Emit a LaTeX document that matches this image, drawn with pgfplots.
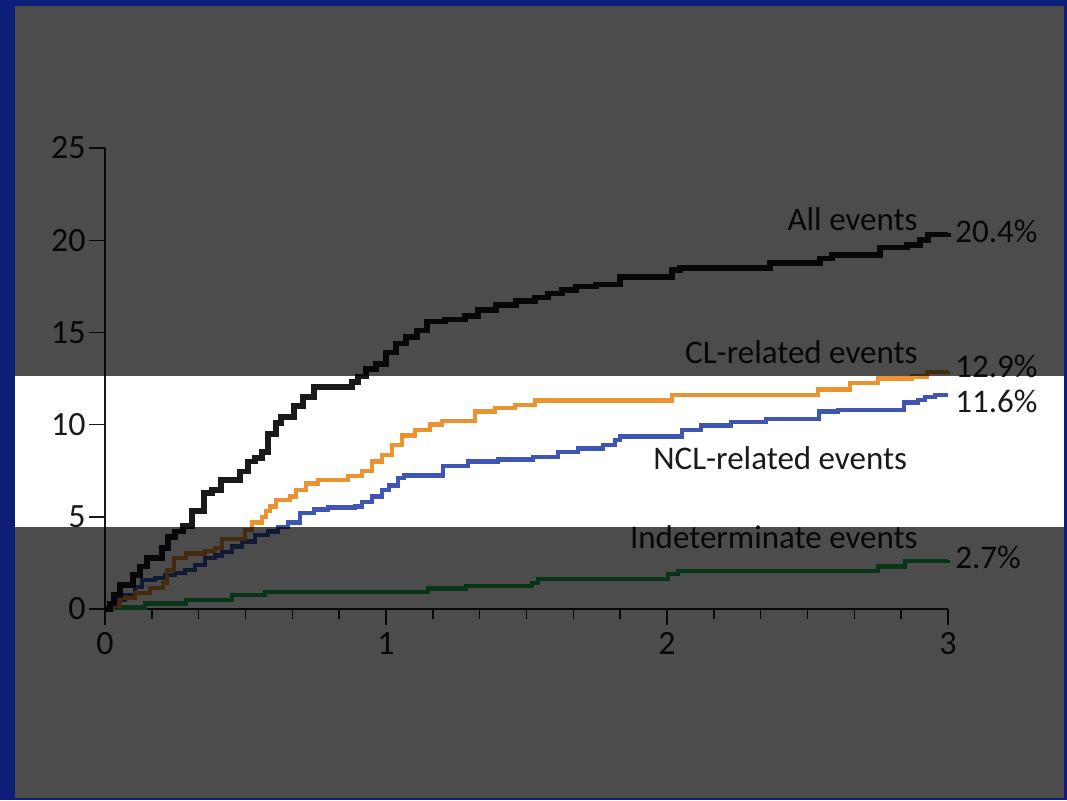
\documentclass[border=0pt]{standalone}
\usepackage{fontspec}
\setmainfont{Carlito}
\usepackage{pgfplots}
\pgfplotsset{compat=1.18}
\definecolor{navybg}{RGB}{12,30,120}
\definecolor{kblack}{RGB}{26,26,26}
\definecolor{korange}{RGB}{234,147,48}
\definecolor{kblue}{RGB}{63,85,179}
\definecolor{kgreen}{RGB}{30,175,80}
\newcommand\lbl{\fontsize{16.5}{19}\selectfont}
\begin{document}
\begin{tikzpicture}
\useasboundingbox (0,0) rectangle (533.5pt,400pt);
\fill[navybg] (0,0) rectangle (533.5pt,400pt);
\fill[white] (7.5pt,1pt) rectangle (532pt,397pt);
\begin{axis}[
  at={(52.5pt,95.5pt)}, anchor=south west,
  scale only axis, width=421.5pt, height=230.5pt,
  xmin=0, xmax=3, ymin=0, ymax=25,
  axis lines=left, axis line style={line width=0.7pt, -, kblack},
  xtick={0,1,2,3}, ytick={0,5,10,15,20,25},
  minor x tick num=5,
  tick align=outside, major tick length=8pt, minor tick length=5pt,
  tick style={line width=0.7pt, kblack},
  clip=false,
  /pgf/number format/assume math mode=true,
  tick label style={font=\fontsize{17}{20}\selectfont, text=kblack},
  xticklabel style={inner sep=3.5pt},
  yticklabel style={inner sep=1.5pt},
  every axis plot/.append style={no marks, const plot mark left, line join=miter},
]
% Indeterminate
\addplot[kgreen, line width=2.2pt] coordinates {
(0,0) (0.0249,0.08) (0.1423,0.3) (0.2883,0.5) (0.452,0.76) (0.5694,0.92)
(1.1495,1.12) (1.2847,1.25) (1.5196,1.4) (1.5409,1.62) (2.0036,1.9) (2.0391,2.05)
(2.7509,2.3) (2.847,2.6) (3.0,2.65)};
% NCL
\addplot[kblue, line width=2.2pt] coordinates {
(0,0) (0.0214,0.2) (0.0391,0.5) (0.0712,0.76) (0.1068,1.2) (0.1317,1.57)
(0.1779,1.67) (0.2135,1.84) (0.2491,1.95) (0.2847,2.1) (0.3203,2.4) (0.3559,2.75)
(0.3915,2.9) (0.4164,3.1) (0.452,3.4) (0.4875,3.65) (0.5338,4.0) (0.5801,4.2)
(0.6157,4.45) (0.6512,4.7) (0.694,5.2) (0.7438,5.4) (0.7936,5.5) (0.8897,5.55)
(0.9146,5.8) (0.9502,6.1) (0.9858,6.45) (1.0107,6.7) (1.0427,7.1) (1.0641,7.25)
(1.2028,7.75) (1.2918,8.0) (1.3986,8.1) (1.5231,8.25) (1.6121,8.5) (1.6833,8.7)
(1.7722,8.9) (1.8149,9.15) (1.8327,9.35) (2.0534,9.7) (2.121,9.95) (2.2278,10.15)
(2.3523,10.3) (2.5409,10.7) (2.6085,10.8) (2.8434,11.2) (2.8932,11.35) (2.9181,11.5)
(2.9537,11.6) (3.0,11.6)};
% CL
\addplot[korange, line width=2.2pt] coordinates {
(0,0) (0.0249,0.2) (0.0534,0.6) (0.1068,0.86) (0.1601,1.14) (0.2064,1.4)
(0.2206,2.1) (0.2456,2.75) (0.2883,3.0) (0.3559,3.15) (0.3915,3.3) (0.4164,3.8)
(0.4982,4.3) (0.5231,4.7) (0.5587,5.0) (0.573,5.3) (0.5872,5.55) (0.6085,5.9)
(0.6584,6.1) (0.6797,6.45) (0.7153,6.8) (0.758,7.0) (0.8648,7.2) (0.9146,7.5)
(0.9502,8.0) (0.9858,8.35) (1.0214,8.9) (1.0569,9.4) (1.1032,9.7) (1.1566,10.0)
(1.1993,10.2) (1.3167,10.7) (1.3879,10.9) (1.4591,11.05) (1.5302,11.3) (2.0178,11.6)
(2.5374,11.9) (2.6512,12.25) (2.7509,12.5) (2.8719,12.6) (2.9253,12.85) (3.0,12.9)};
% All events
\addplot[kblack, line width=2.8pt] coordinates {
(0,0) (0.0178,0.3) (0.032,0.76) (0.053,1.3) (0.0996,1.84) (0.1246,2.3)
(0.1495,2.75) (0.2028,3.3) (0.2242,3.9) (0.2491,4.2) (0.2776,4.5) (0.3096,5.3)
(0.3523,6.3) (0.3808,6.45) (0.4128,7.0) (0.4804,7.45) (0.5089,8.0) (0.5338,8.2)
(0.5587,8.5) (0.5801,9.5) (0.6085,10.1) (0.6263,10.4) (0.6726,11.0) (0.7046,11.5)
(0.7438,12.05) (0.879,12.3) (0.9004,12.6) (0.9288,13.0) (0.9644,13.3) (1.0,13.9)
(1.0356,14.4) (1.0712,14.75) (1.1103,15.1) (1.1459,15.6) (1.21,15.7) (1.2811,15.9)
(1.3274,16.2) (1.3915,16.5) (1.4626,16.7) (1.5302,16.9) (1.5765,17.1) (1.6263,17.3)
(1.6762,17.5) (1.7473,17.6) (1.8327,18.0) (2.0178,18.4) (2.0463,18.5) (2.3665,18.75)
(2.5445,19.0) (2.5872,19.2) (2.758,19.6) (2.854,19.75) (2.9004,20.0) (2.9288,20.3)
(3.0,20.4)};
\node[anchor=base east, inner sep=0pt, font=\lbl, text=kblack] at (axis cs:2.893,20.55) {All events};
\node[anchor=base east, inner sep=0pt, font=\lbl, text=kblack] at (axis cs:2.893,13.34) {CL-related events};
\node[anchor=base west, inner sep=0pt, font=\lbl, text=kblack] at (axis cs:1.950,7.54) {NCL-related events};
\node[anchor=base east, inner sep=0pt, font=\lbl, text=kblack] at (axis cs:2.893,3.29) {Indeterminate events};
\node[anchor=base west, inner sep=0pt, font=\lbl, text=kblack] at (axis cs:3.025,19.85) {20.4\%};
\node[anchor=base west, inner sep=0pt, font=\lbl, text=kblack] at (axis cs:3.025,12.58) {12.9\%};
\node[anchor=base west, inner sep=0pt, font=\lbl, text=kblack] at (axis cs:3.025,10.65) {11.6\%};
\node[anchor=base west, inner sep=0pt, font=\lbl, text=kblack] at (axis cs:3.025,2.22) {2.7\%};
\end{axis}
\fill[black, opacity=0.7] (7.5pt,1pt) rectangle (532pt,136.7pt);
\fill[black, opacity=0.7] (7.5pt,212pt) rectangle (532pt,397pt);
\end{tikzpicture}
\end{document}
